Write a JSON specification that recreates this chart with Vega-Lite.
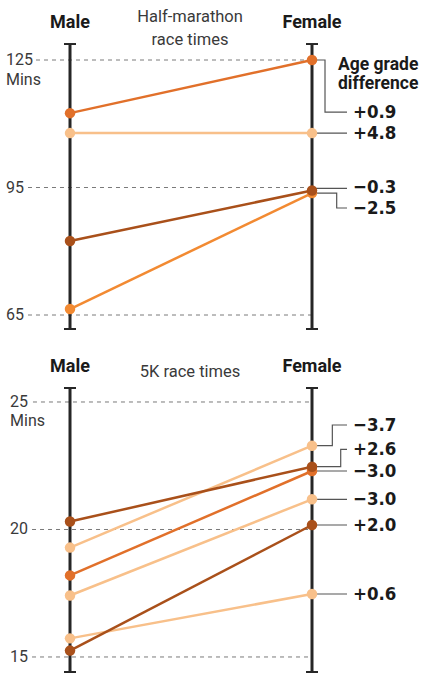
{
  "$schema": "https://vega.github.io/schema/vega-lite/v6.json",
  "padding": 0,
  "spacing": 0,
  "background": "white",
  "config": {"view": {"stroke": null}, "font": "Roboto"},
  "datasets": {
    "hmGrid": [
      {"y": 125, "x": -0.1405, "x2": 1},
      {"y": 95, "x": -0.1736, "x2": 1},
      {"y": 65, "x": -0.1736, "x2": 1}
    ],
    "hmAxes": [
      {"x": 0, "y": 128.76, "y2": 61.71},
      {"x": 1, "y": 128.76, "y2": 61.71}
    ],
    "hmCaps": [
      {"x": -0.0248, "x2": 0.0248, "y": 128.76},
      {"x": -0.0248, "x2": 0.0248, "y": 61.71},
      {"x": 0.9752, "x2": 1.0248, "y": 128.76},
      {"x": 0.9752, "x2": 1.0248, "y": 61.71}
    ],
    "hmConn": [
      {"id": "a", "o": 1, "x": 1, "y": 125},
      {"id": "a", "o": 2, "x": 1.0537, "y": 125},
      {"id": "a", "o": 3, "x": 1.0537, "y": 112.76},
      {"id": "a", "o": 4, "x": 1.1446, "y": 112.76},
      {"id": "b", "o": 1, "x": 1, "y": 107.8},
      {"id": "b", "o": 2, "x": 1.1446, "y": 107.8},
      {"id": "c", "o": 1, "x": 1, "y": 94.8},
      {"id": "c", "o": 2, "x": 1.1446, "y": 94.8},
      {"id": "d", "o": 1, "x": 1, "y": 93.7},
      {"id": "d", "o": 2, "x": 1.102, "y": 93.7},
      {"id": "d", "o": 3, "x": 1.102, "y": 90.18},
      {"id": "d", "o": 4, "x": 1.1446, "y": 90.18}
    ],
    "hmRuns": [
      {"s": "H4", "c": "bright", "x": 0, "y": 66.4},
      {"s": "H4", "c": "bright", "x": 1, "y": 93.7},
      {"s": "H3", "c": "dark", "x": 0, "y": 82.4},
      {"s": "H3", "c": "dark", "x": 1, "y": 94.3},
      {"s": "H2", "c": "light", "x": 0, "y": 107.8},
      {"s": "H2", "c": "light", "x": 1, "y": 107.8},
      {"s": "H1", "c": "orange", "x": 0, "y": 112.5},
      {"s": "H1", "c": "orange", "x": 1, "y": 125}
    ],
    "hmHead": [
      {"t": "Male", "x": 0, "y": 133.71},
      {"t": "Female", "x": 1, "y": 133.71}
    ],
    "hmSub": [
      {"t": "Half-marathon", "x": 0.4959, "y": 135.12},
      {"t": "race times", "x": 0.4959, "y": 129.71}
    ],
    "hmNote": [
      {"t": "Age grade", "x": 1.1074, "y": 123.82},
      {"t": "difference", "x": 1.1074, "y": 119.35}
    ],
    "hmTicks": [
      {"t": "125", "x": -0.2645, "y": 125},
      {"t": "Mins", "x": -0.2645, "y": 120.29},
      {"t": "95", "x": -0.2645, "y": 95},
      {"t": "65", "x": -0.2645, "y": 65}
    ],
    "hmDiff": [
      {"t": "+0.9", "x": 1.1694, "y": 112.76},
      {"t": "+4.8", "x": 1.1694, "y": 107.8},
      {"t": "−0.3", "x": 1.1694, "y": 95.12},
      {"t": "−2.5", "x": 1.1694, "y": 90.18}
    ],
    "kGrid": [
      {"y": 25, "x": -0.153, "x2": 1},
      {"y": 20, "x": -0.157, "x2": 1},
      {"y": 15, "x": -0.157, "x2": 1}
    ],
    "kAxes": [
      {"x": 0, "y": 25.549, "y2": 14.412},
      {"x": 1, "y": 25.549, "y2": 14.412}
    ],
    "kCaps": [
      {"x": -0.0248, "x2": 0.0248, "y": 25.549},
      {"x": -0.0248, "x2": 0.0248, "y": 14.412},
      {"x": 0.9752, "x2": 1.0248, "y": 25.549},
      {"x": 0.9752, "x2": 1.0248, "y": 14.412}
    ],
    "kConn": [
      {"id": "a", "o": 1, "x": 1, "y": 23.286},
      {"id": "a", "o": 2, "x": 1.084, "y": 23.286},
      {"id": "a", "o": 3, "x": 1.084, "y": 24.098},
      {"id": "a", "o": 4, "x": 1.1446, "y": 24.098},
      {"id": "b", "o": 1, "x": 1, "y": 22.463},
      {"id": "b", "o": 2, "x": 1.1186, "y": 22.463},
      {"id": "b", "o": 3, "x": 1.1186, "y": 23.145},
      {"id": "b", "o": 4, "x": 1.1446, "y": 23.145},
      {"id": "c", "o": 1, "x": 1, "y": 22.294},
      {"id": "c", "o": 2, "x": 1.1446, "y": 22.294},
      {"id": "d", "o": 1, "x": 1, "y": 21.184},
      {"id": "d", "o": 2, "x": 1.1446, "y": 21.184},
      {"id": "e", "o": 1, "x": 1, "y": 20.176},
      {"id": "e", "o": 2, "x": 1.1446, "y": 20.176},
      {"id": "f", "o": 1, "x": 1, "y": 17.47},
      {"id": "f", "o": 2, "x": 1.1446, "y": 17.47}
    ],
    "kRuns": [
      {"s": "F5", "c": "light", "x": 0, "y": 15.73},
      {"s": "F5", "c": "light", "x": 1, "y": 17.47},
      {"s": "F4", "c": "light", "x": 0, "y": 17.41},
      {"s": "F4", "c": "light", "x": 1, "y": 21.184},
      {"s": "F2", "c": "light", "x": 0, "y": 19.29},
      {"s": "F2", "c": "light", "x": 1, "y": 23.286},
      {"s": "F3", "c": "orange", "x": 0, "y": 18.2},
      {"s": "F3", "c": "orange", "x": 1, "y": 22.294},
      {"s": "F6", "c": "dark", "x": 0, "y": 15.25},
      {"s": "F6", "c": "dark", "x": 1, "y": 20.176},
      {"s": "F1", "c": "dark", "x": 0, "y": 20.31},
      {"s": "F1", "c": "dark", "x": 1, "y": 22.463}
    ],
    "kHead": [
      {"t": "Male", "x": 0, "y": 26.372},
      {"t": "Female", "x": 1, "y": 26.372}
    ],
    "kSub": [
      {"t": "5K race times", "x": 0.4959, "y": 26.176}
    ],
    "kTicks": [
      {"t": "25", "x": -0.2479, "y": 25},
      {"t": "Mins", "x": -0.2479, "y": 24.255},
      {"t": "20", "x": -0.2479, "y": 20},
      {"t": "15", "x": -0.2479, "y": 15}
    ],
    "kDiff": [
      {"t": "−3.7", "x": 1.1694, "y": 24.098},
      {"t": "+2.6", "x": 1.1694, "y": 23.145},
      {"t": "−3.0", "x": 1.1694, "y": 22.294},
      {"t": "−3.0", "x": 1.1694, "y": 21.184},
      {"t": "+2.0", "x": 1.1694, "y": 20.176},
      {"t": "+0.6", "x": 1.1694, "y": 17.47}
    ]
  },
  "vconcat": [
    {
      "width": 440,
      "height": 340,
      "encoding": {
        "x": {"field": "x", "type": "quantitative", "scale": {"domain": [-0.2893, 1.5289], "nice": false, "zero": false}, "axis": null},
        "y": {"field": "y", "type": "quantitative", "scale": {"domain": [59.12, 139.12], "nice": false, "zero": false}, "axis": null}
      },
      "layer": [
        {"data": {"name": "hmGrid"}, "mark": {"type": "rule", "stroke": "#7a7a7a", "strokeWidth": 1, "strokeDash": [4, 4]}, "encoding": {"x2": {"field": "x2"}}},
        {"data": {"name": "hmAxes"}, "mark": {"type": "rule", "stroke": "#262626", "strokeWidth": 3}, "encoding": {"y2": {"field": "y2"}}},
        {"data": {"name": "hmCaps"}, "mark": {"type": "rule", "stroke": "#262626", "strokeWidth": 2}, "encoding": {"x2": {"field": "x2"}}},
        {"data": {"name": "hmConn"}, "mark": {"type": "line", "stroke": "#555555", "strokeWidth": 1.2, "interpolate": "linear"}, "encoding": {"detail": {"field": "id"}, "order": {"field": "o"}}},
        {"data": {"name": "hmRuns"}, "mark": {"type": "line", "strokeWidth": 2.5}, "encoding": {"detail": {"field": "s"}, "color": {"field": "c", "type": "nominal", "legend": null, "scale": {"domain": ["dark", "orange", "bright", "light"], "range": ["#a9501a", "#e1702a", "#f28a32", "#f8c08a"]}}}},
        {"data": {"name": "hmRuns"}, "mark": {"type": "circle", "size": 110, "opacity": 1}, "encoding": {"color": {"field": "c", "type": "nominal", "legend": null, "scale": {"domain": ["dark", "orange", "bright", "light"], "range": ["#a9501a", "#e1702a", "#f28a32", "#f8c08a"]}}}},
        {"data": {"name": "hmHead"}, "mark": {"type": "text", "font": "Roboto", "fontWeight": "bold", "fontSize": 18, "align": "center", "baseline": "middle", "color": "#1a1a1a"}, "encoding": {"text": {"field": "t"}}},
        {"data": {"name": "hmSub"}, "mark": {"type": "text", "font": "Roboto", "fontWeight": "normal", "fontSize": 16.5, "align": "center", "baseline": "middle", "color": "#3a3a3a"}, "encoding": {"text": {"field": "t"}}},
        {"data": {"name": "hmNote"}, "mark": {"type": "text", "font": "Roboto", "fontWeight": "bold", "fontSize": 17.5, "align": "left", "baseline": "middle", "color": "#1a1a1a"}, "encoding": {"text": {"field": "t"}}},
        {"data": {"name": "hmTicks"}, "mark": {"type": "text", "font": "Roboto", "fontWeight": "normal", "fontSize": 16, "align": "left", "baseline": "middle", "color": "#3a3a3a"}, "encoding": {"text": {"field": "t"}}},
        {"data": {"name": "hmDiff"}, "mark": {"type": "text", "font": "DejaVu Sans Condensed, Roboto", "fontWeight": "bold", "fontSize": 18.5, "align": "left", "baseline": "middle", "color": "#1a1a1a"}, "encoding": {"text": {"field": "t"}}}
      ]
    },
    {
      "width": 440,
      "height": 351,
      "encoding": {
        "x": {"field": "x", "type": "quantitative", "scale": {"domain": [-0.2893, 1.5289], "nice": false, "zero": false}, "axis": null},
        "y": {"field": "y", "type": "quantitative", "scale": {"domain": [13.666, 27.431], "nice": false, "zero": false}, "axis": null}
      },
      "layer": [
        {"data": {"name": "kGrid"}, "mark": {"type": "rule", "stroke": "#7a7a7a", "strokeWidth": 1, "strokeDash": [4, 4]}, "encoding": {"x2": {"field": "x2"}}},
        {"data": {"name": "kAxes"}, "mark": {"type": "rule", "stroke": "#262626", "strokeWidth": 3}, "encoding": {"y2": {"field": "y2"}}},
        {"data": {"name": "kCaps"}, "mark": {"type": "rule", "stroke": "#262626", "strokeWidth": 2}, "encoding": {"x2": {"field": "x2"}}},
        {"data": {"name": "kConn"}, "mark": {"type": "line", "stroke": "#555555", "strokeWidth": 1.2, "interpolate": "linear"}, "encoding": {"detail": {"field": "id"}, "order": {"field": "o"}}},
        {"data": {"name": "kRuns"}, "mark": {"type": "line", "strokeWidth": 2.5}, "encoding": {"detail": {"field": "s"}, "color": {"field": "c", "type": "nominal", "legend": null, "scale": {"domain": ["dark", "orange", "bright", "light"], "range": ["#a9501a", "#e1702a", "#f28a32", "#f8c08a"]}}}},
        {"data": {"name": "kRuns"}, "mark": {"type": "circle", "size": 110, "opacity": 1}, "encoding": {"color": {"field": "c", "type": "nominal", "legend": null, "scale": {"domain": ["dark", "orange", "bright", "light"], "range": ["#a9501a", "#e1702a", "#f28a32", "#f8c08a"]}}}},
        {"data": {"name": "kHead"}, "mark": {"type": "text", "font": "Roboto", "fontWeight": "bold", "fontSize": 18, "align": "center", "baseline": "middle", "color": "#1a1a1a"}, "encoding": {"text": {"field": "t"}}},
        {"data": {"name": "kSub"}, "mark": {"type": "text", "font": "Roboto", "fontWeight": "normal", "fontSize": 16.5, "align": "center", "baseline": "middle", "color": "#3a3a3a"}, "encoding": {"text": {"field": "t"}}},
        {"data": {"name": "kTicks"}, "mark": {"type": "text", "font": "Roboto", "fontWeight": "normal", "fontSize": 16, "align": "left", "baseline": "middle", "color": "#3a3a3a"}, "encoding": {"text": {"field": "t"}}},
        {"data": {"name": "kDiff"}, "mark": {"type": "text", "font": "DejaVu Sans Condensed, Roboto", "fontWeight": "bold", "fontSize": 18.5, "align": "left", "baseline": "middle", "color": "#1a1a1a"}, "encoding": {"text": {"field": "t"}}}
      ]
    }
  ]
}
